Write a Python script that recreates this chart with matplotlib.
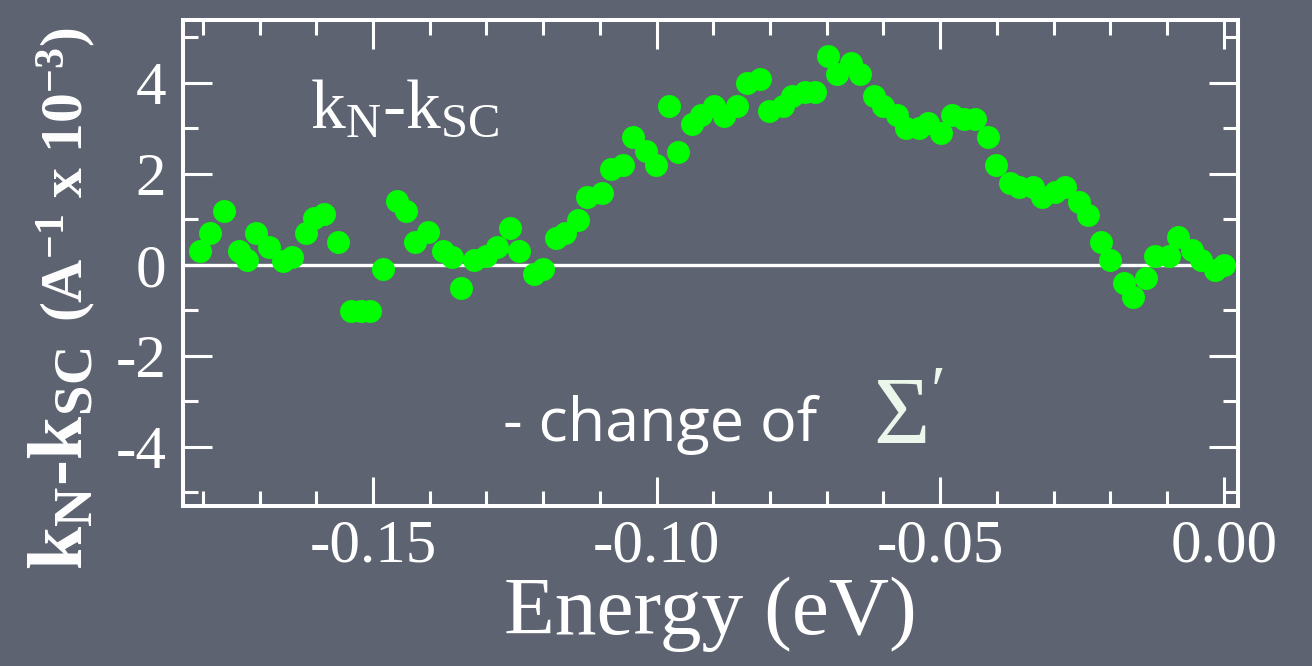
import numpy as np, matplotlib
matplotlib.use("Agg"); import matplotlib.pyplot as plt
from matplotlib.ticker import MultipleLocator, FormatStrFormatter

plt.rcParams.update({"font.family":"Liberation Serif","axes.unicode_minus":False,
    "mathtext.fontset":"custom","mathtext.rm":"Liberation Serif",
    "mathtext.it":"Liberation Serif:italic","mathtext.bf":"Liberation Serif:bold"})

# k_N - k_SC (1e-3 / A) vs energy (eV)
energy=[-0.1805,-0.1787,-0.1763,-0.1737,-0.1722,-0.1706,-0.1683,-0.1658,-0.1642,-0.1618,
        -0.1604,-0.1586,-0.1561,-0.1538,-0.1522,-0.1505,-0.1482,-0.1458,-0.1442,-0.1426,
        -0.1403,-0.1377,-0.1361,-0.1345,-0.1322,-0.1300,-0.1282,-0.1259,-0.1242,-0.1216,
        -0.1201,-0.1177,-0.1162,-0.1138,-0.1122,-0.1097,-0.1081,-0.1059,-0.1041,-0.1018,
        -0.1001,-0.0978,-0.0962,-0.0938,-0.0922,-0.0898,-0.0881,-0.0859,-0.0841,-0.0818,
        -0.0801,-0.0778,-0.0762,-0.0738,-0.0721,-0.0697,-0.0682,-0.0658,-0.0642,-0.0617,
        -0.0601,-0.0577,-0.0560,-0.0537,-0.0521,-0.0498,-0.0480,-0.0458,-0.0439,-0.0416,
        -0.0401,-0.0377,-0.0361,-0.0337,-0.0320,-0.0298,-0.0280,-0.0256,-0.0240,-0.0217,
        -0.0201,-0.0176,-0.0160,-0.0137,-0.0121,-0.0097,-0.0081,-0.0056,-0.0040,-0.0016,0.0000]
dk=[0.31,0.70,1.19,0.31,0.11,0.70,0.40,0.09,0.18,0.70,
    1.03,1.11,0.50,-1.01,-1.01,-1.01,-0.10,1.41,1.19,0.50,
    0.72,0.31,0.18,-0.50,0.11,0.20,0.40,0.81,0.31,-0.20,
    -0.10,0.59,0.70,0.99,1.50,1.58,2.10,2.20,2.80,2.51,
    2.20,3.49,2.49,3.09,3.30,3.49,3.27,3.49,3.99,4.08,
    3.39,3.49,3.70,3.80,3.80,4.59,4.20,4.43,4.20,3.70,
    3.49,3.30,3.00,3.00,3.11,2.89,3.30,3.20,3.20,2.80,
    2.20,1.80,1.70,1.70,1.50,1.60,1.72,1.39,1.10,0.50,
    0.11,-0.39,-0.70,-0.29,0.20,0.20,0.61,0.33,0.11,-0.11,0.00]
xticks=[-0.15,-0.10,-0.05,0.00]
yticks=[-4,-2,0,2,4]

bg="#5e6371"; W,H=1312,666
fig=plt.figure(figsize=(W/100,H/100),dpi=100,facecolor=bg)
ax=fig.add_axes([183/W,1-506/H,(1238-183)/W,(506-20)/H],facecolor=bg)

ax.axhline(0,color="white",lw=2.4,zorder=2)
ax.plot(energy,dk,"o",color="#00ff00",ms=16.5,mec="none",zorder=3)

ax.set_xlim(-0.1835,0.0025); ax.set_ylim(-5.30,5.38)
ax.set_xticks(xticks); ax.set_yticks(yticks)
ax.xaxis.set_minor_locator(MultipleLocator(0.01)); ax.yaxis.set_minor_locator(MultipleLocator(1))
ax.xaxis.set_major_formatter(FormatStrFormatter("%.2f"))
for s in ax.spines.values(): s.set_color("white"); s.set_linewidth(2.9)
ax.tick_params(which="both",direction="in",top=True,right=True,color="white",labelcolor="white",width=2.2)
ax.tick_params(which="major",length=21,labelsize=44)
ax.tick_params(which="minor",length=11)
ax.tick_params(axis="x",pad=9); ax.tick_params(axis="y",pad=12)

ax.set_xlabel("Energy (eV)",color="white",fontsize=60,labelpad=2)

# y label in two sizes, rotated, sharing one baseline
fig.text(83/W,1-570/H,r"$\mathbf{k_N}$-$\mathbf{k_{SC}}$",color="white",fontsize=56,fontweight="bold",
         rotation=90,rotation_mode="anchor",ha="left",va="baseline")
fig.text(83/W,1-322/H,r"(A$^{\mathbf{-1}}$ x 10$^{\mathbf{-3}}$)",color="white",fontsize=43,fontweight="bold",
         rotation=90,rotation_mode="anchor",ha="left",va="baseline")

ax.text((310-183)/1055,(506-127)/486,r"k$_{\rm N}$-k$_{\rm SC}$",transform=ax.transAxes,color="white",
        fontsize=50,va="baseline",ha="left")
ax.text((503-183)/1055,(506-441)/486,"- change of",transform=ax.transAxes,color="white",
        fontsize=44,family="Open Sans",va="baseline",ha="left")
ax.text((873-183)/1055,(506-444)/486,r"$\Sigma'$",transform=ax.transAxes,color="#eaf7ea",
        fontsize=70,va="baseline",ha="left")

fig.savefig("out.png",dpi=100,facecolor=bg)
